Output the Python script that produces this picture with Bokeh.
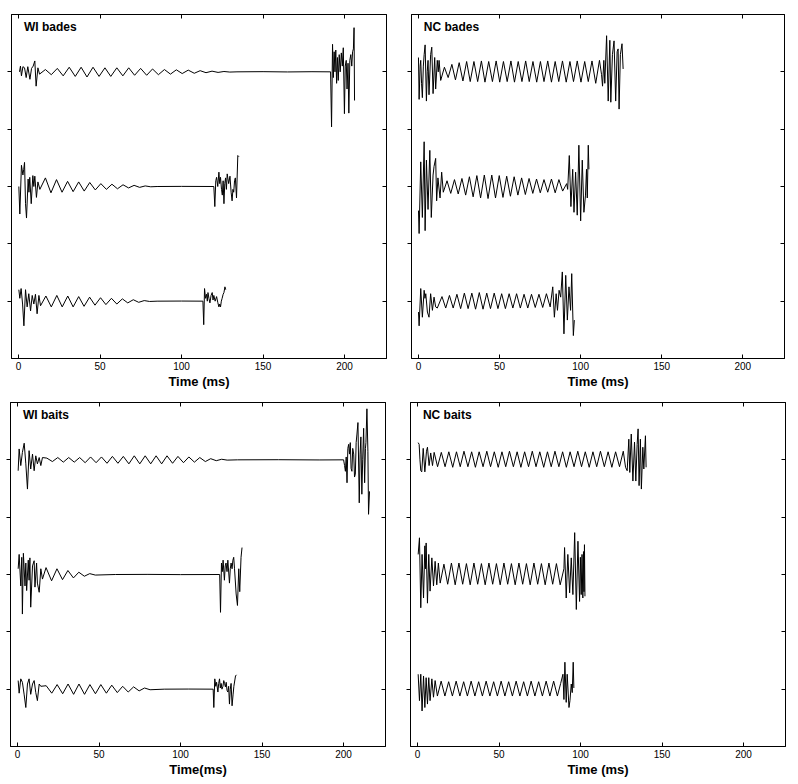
from bokeh.plotting import figure
from bokeh.layouts import column, row
from bokeh.models import Range1d, FixedTicker, LinearAxis, Label
from bokeh.embed import file_html
from bokeh.resources import INLINE

# ---------------- data (time in ms, deflection in tick units) ----------------
X_TICKS = [0, 50, 100, 150, 200]
Y_TICKS = [1, 2, 3, 4, 5]
TRACE_BASE = [5, 3, 1]

WB1 = [(0.6,0.0),(1.2,0.10),(1.8,-0.07),(2.7,0.09),(3.7,0.07),(4.7,-0.10),(5.7,0.09),(7.0,-0.13),(8.0,0.06),(9.0,0.10),(10.0,0.19),(10.8,-0.25),(11.9,0.07),(12.9,-0.04),
       (16.5,0.04),(20.1,-0.05),(23.8,0.06),(27.4,-0.07),(31.1,0.08),(34.8,-0.08),(38.4,0.08),(42.0,-0.09),(45.7,0.08),(49.4,-0.08),(53.0,0.07),(56.6,-0.08),(60.3,0.07),(64.0,-0.07),(67.6,0.07),(71.2,-0.06),(74.9,0.06),(78.6,-0.06),(82.2,0.05),(85.8,-0.05),(89.5,0.04),(93.2,-0.04),(96.8,0.035),(100.4,-0.03),(104.1,0.03),(107.8,-0.025),(111.4,0.02),(115.0,-0.015),(118.7,0.012),(122.4,-0.01),(126.0,0.006),(129.6,-0.004),
       (134.0,0.0),(150.0,0.003),(165.0,-0.002),(180.0,0.002),
       (191.4,0.0),(192.0,-0.96),(192.6,0.48),(193.1,-0.1),(193.6,0.35),(194.1,0.0),(194.6,0.38),(195.1,-0.2),(195.6,0.25),(196.1,-0.15),(196.7,0.3),(197.3,0.0),(198.0,0.33),(198.6,0.1),(199.2,0.42),(199.9,-0.73),(200.4,0.1),(201.0,0.2),(201.5,-0.3),(202.1,0.15),(202.6,-0.72),(203.2,0.2),(203.8,0.3),(204.4,0.1),(204.9,0.35),(205.4,0.4),(205.8,0.77),(206.1,-0.5)]

WB2 = [(0.2,0.0),(0.8,-0.48),(1.8,0.37),(2.7,0.2),(3.2,0.3),(3.7,0.42),(4.3,-0.3),(4.9,-0.55),(5.9,0.13),(6.4,-0.1),(6.9,0.16),(7.8,-0.3),(8.8,0.19),(9.4,0.0),(10.0,0.18),(11.0,-0.19),(11.9,0.08),(13.1,-0.05),
       (16.5,0.15),(19.9,-0.11),(23.3,0.12),(26.7,-0.1),(30.1,0.09),(33.5,-0.09),(36.9,0.08),(40.3,-0.08),(43.7,0.07),(47.1,-0.06),(50.5,0.05),(53.9,-0.05),(57.3,0.04),(60.7,-0.04),(64.1,0.03),(67.5,-0.025),(70.9,0.02),(74.3,-0.015),(77.7,0.01),(81.1,-0.005),
       (85.0,0.0),(100.0,0.002),(119.8,0.0),
       (120.4,-0.35),(121.0,0.1),(121.5,0.16),(122.2,0.0),(122.9,0.25),(123.4,0.05),(123.9,0.16),(124.5,-0.05),(125.0,-0.15),(125.5,0.1),(126.0,-0.3),(126.5,0.05),(127.0,0.15),(127.5,-0.05),(128.0,0.22),(128.9,0.05),(129.7,0.18),(130.4,-0.1),(131.0,-0.25),(131.5,-0.05),(132.0,-0.1),(132.5,0.1),(133.0,0.15),(133.7,-0.2),(134.5,0.54),(135.2,0.52)]

WB3 = [(0.2,0.2),(0.8,0.05),(1.6,0.22),(2.5,-0.05),(3.3,-0.43),(4.3,0.2),(5.3,-0.1),(6.3,0.13),(7.4,-0.17),(8.4,0.1),(9.4,-0.05),(10.4,0.12),(11.4,-0.22),(12.5,0.1),(13.5,-0.08),
       (16.8,0.09),(20.1,-0.1),(23.5,0.1),(26.8,-0.1),(30.2,0.09),(33.5,-0.1),(36.9,0.08),(40.2,-0.09),(43.6,0.07),(46.9,-0.07),(50.3,0.06),(53.6,-0.06),(57.0,0.05),(60.3,-0.05),(63.7,0.04),(67.0,-0.03),(70.4,0.025),(73.7,-0.02),(77.1,0.01),(80.4,-0.005),
       (85.0,0.0),(100.0,0.002),(113.1,0.0),
       (113.6,-0.41),(114.1,0.22),(114.7,0.05),(115.3,0.12),(115.8,0.0),(116.2,0.15),(116.8,0.05),(117.4,-0.03),(118.1,0.1),(118.8,0.15),(119.3,0.02),(119.8,0.1),(120.6,0.0),(121.5,0.08),(122.2,-0.02),(122.9,-0.1),(123.4,-0.05),(123.9,-0.1),(124.4,0.0),(124.9,0.05),(125.5,0.12),(126.0,0.15),(126.6,0.25),(127.1,0.2)]

NB1 = [(0.0,0.25),(0.4,-0.48),(1.0,0.1),(1.4,0.2),(1.9,-0.2),(2.4,-0.45),(3.0,0.1),(3.5,0.3),(4.1,0.47),(4.9,-0.51),(5.4,0.0),(5.9,0.2),(6.5,-0.4),(7.5,0.3),(8.2,0.43),(9.0,-0.38),(10.0,0.25),(10.6,-0.3),(11.6,0.2),(12.2,0.0),(12.7,0.2),(13.7,-0.15),
       (16.0,0.08),(18.3,-0.1),(20.6,0.13),(22.8,-0.14),(25.1,0.16),(27.4,-0.16),(29.7,0.18),(31.9,-0.17),(34.2,0.18),(36.5,-0.17),(38.8,0.19),(41.0,-0.18),(43.3,0.18),(45.6,-0.17),(47.9,0.19),(50.1,-0.18),(52.4,0.18),(54.7,-0.17),(57.0,0.19),(59.2,-0.18),(61.5,0.18),(63.8,-0.17),(66.1,0.19),(68.3,-0.17),(70.6,0.18),(72.9,-0.18),(75.2,0.18),(77.4,-0.17),(79.7,0.19),(82.0,-0.18),(84.3,0.18),(86.5,-0.17),(88.8,0.19),(91.1,-0.18),(93.4,0.18),(95.6,-0.17),(97.9,0.19),(100.2,-0.18),(102.5,0.18),(104.7,-0.17),(107.0,0.19),(109.3,-0.2),(111.6,0.2),
       (112.9,-0.05),(113.5,-0.25),(114.3,0.2),(114.9,-0.2),(116.0,0.63),(117.0,-0.51),(118.0,0.55),(118.6,-0.53),(119.6,0.3),(120.6,0.54),(121.6,-0.51),(122.5,0.35),(123.1,0.4),(123.7,-0.65),(124.5,0.3),(125.5,0.49),(126.2,0.05)]

NB2 = [(0.0,-0.42),(0.4,-0.82),(1.4,0.43),(2.4,-0.54),(3.5,0.78),(4.1,-0.77),(4.9,0.46),(5.9,-0.4),(7.0,0.63),(7.9,-0.54),(9.0,0.2),(9.6,0.35),(10.6,0.49),(11.2,-0.25),(12.0,0.15),(13.3,-0.2),(14.3,0.25),(15.3,-0.1),
       (17.6,0.1),(19.9,-0.12),(22.2,0.12),(24.5,-0.13),(26.8,0.14),(29.1,-0.15),(31.4,0.17),(33.7,-0.18),(36.0,0.19),(38.3,-0.2),(40.6,0.2),(42.9,-0.21),(45.2,0.2),(47.5,-0.2),(49.8,0.19),(52.1,-0.19),(54.4,0.18),(56.7,-0.17),(59.0,0.17),(61.3,-0.15),(63.6,0.15),(65.9,-0.14),(68.2,0.14),(70.5,-0.12),(72.8,0.13),(75.1,-0.11),(77.4,0.12),(79.7,-0.1),(82.0,0.13),(84.3,-0.11),(86.6,0.12),(88.9,-0.08),
       (91.4,0.05),(92.0,-0.05),(93.0,0.54),(94.0,-0.35),(95.1,0.3),(95.9,-0.45),(96.9,0.25),(97.9,-0.5),(98.9,0.72),(100.0,-0.6),(101.0,0.46),(102.0,-0.45),(103.0,-0.15),(103.6,0.3),(104.1,-0.2),(104.7,0.72),(105.1,0.3)]

NB3 = [(0.0,-0.19),(0.4,-0.43),(1.4,0.22),(2.4,-0.28),(3.5,0.19),(4.0,0.05),(4.5,0.13),(5.5,-0.19),(6.5,-0.28),(7.5,0.13),(8.6,-0.16),(9.6,0.07),(10.6,-0.1),(11.6,-0.12),
       (14.5,0.08),(16.8,-0.12),(19.1,0.1),(21.4,-0.12),(23.7,0.12),(26.0,-0.13),(28.3,0.14),(30.6,-0.13),(32.9,0.14),(35.2,-0.14),(37.5,0.15),(39.8,-0.14),(42.1,0.14),(44.4,-0.13),(46.7,0.14),(49.0,-0.13),(51.3,0.13),(53.6,-0.13),(55.9,0.13),(58.2,-0.12),(60.5,0.13),(62.8,-0.12),(65.1,0.12),(67.4,-0.12),(69.7,0.12),(72.0,-0.11),(74.3,0.12),(76.6,-0.11),(78.9,0.13),(81.2,-0.1),
       (82.8,0.25),(83.8,-0.28),(84.9,0.13),(85.7,-0.16),(86.7,0.19),(87.7,0.07),(88.7,0.51),(89.7,-0.57),(90.8,0.45),(91.8,-0.33),(92.8,0.25),(93.8,-0.16),(94.5,0.48),(95.5,-0.6),(96.1,-0.33)]

WT1 = [(0.4,-0.19),(1.0,0.19),(2.0,-0.1),(3.0,0.13),(4.1,0.29),(5.1,-0.07),(6.1,-0.51),(7.1,0.16),(8.1,-0.16),(9.2,0.1),(10.2,-0.19),(11.2,0.07),(12.2,-0.07),(13.3,0.04),(14.3,-0.1),(15.3,0.04),
       (18.0,0.03),(21.4,-0.03),(24.7,0.04),(28.1,-0.04),(31.4,0.04),(34.8,-0.04),(38.1,0.04),(41.5,-0.05),(44.8,0.05),(48.2,-0.05),(51.5,0.05),(54.9,-0.06),(58.2,0.06),(61.6,-0.06),(64.9,0.06),(68.3,-0.07),(71.6,0.07),(75.0,-0.07),(78.3,0.07),(81.7,-0.07),(85.0,0.07),(88.4,-0.07),(91.7,0.07),(95.1,-0.06),(98.4,0.06),(101.8,-0.05),(105.1,0.05),(108.5,-0.04),(111.8,0.04),(115.2,-0.03),(118.5,0.02),(121.9,-0.015),(125.2,0.01),(128.6,-0.005),
       (135.0,0.0),(160.0,0.002),(185.0,-0.002),(200.0,0.0),
       (200.6,-0.1),(201.1,-0.2),(201.6,0.05),(202.1,-0.4),(202.6,0.2),(203.1,0.27),(203.6,0.1),(204.1,0.3),(204.6,-0.15),(205.1,-0.2),(205.6,0.2),(206.2,0.1),(206.7,-0.3),(207.2,-0.25),(207.7,0.3),(208.2,0.45),(208.8,0.65),(209.6,-0.75),(210.1,0.1),(210.6,0.4),(211.2,-0.6),(211.7,0.0),(212.3,0.55),(212.9,-0.4),(213.4,0.2),(213.7,0.3),(214.3,0.89),(214.9,0.15),(215.3,-0.95),(215.9,-0.55)]

WT2 = [(0.4,0.1),(1.0,0.35),(2.0,-0.2),(2.6,0.3),(3.0,-0.69),(3.6,0.37),(4.6,-0.2),(5.1,0.2),(5.6,-0.28),(6.6,0.25),(7.1,-0.1),(7.6,0.29),(8.1,-0.57),(9.2,0.15),(10.2,0.24),(10.7,-0.22),(11.7,0.2),(12.2,-0.15),(13.3,-0.31),(14.3,0.1),(15.3,-0.08),
       (17.5,0.12),(20.9,-0.11),(24.2,0.1),(27.6,-0.09),(30.9,0.07),(34.3,-0.06),(37.6,0.04),(41.0,-0.03),(44.3,0.015),(47.7,-0.01),
       (60.0,0.0),(80.0,0.002),(100.0,-0.002),(124.0,0.0),
       (124.5,-0.66),(125.1,0.2),(125.6,0.05),(126.1,0.25),(126.9,-0.1),(127.4,0.15),(127.9,0.2),(128.5,0.05),(129.0,0.25),(130.0,-0.15),(130.5,0.1),(131.0,0.2),(131.6,0.1),(132.1,0.25),(132.6,0.3),(133.1,0.1),(134.1,-0.34),(134.9,-0.54),(135.7,0.1),(136.3,-0.3),(137.1,0.3),(137.7,0.47)]

WT3 = [(0.4,0.15),(1.0,-0.07),(2.0,0.18),(3.0,0.12),(4.1,-0.1),(5.1,-0.32),(6.1,0.09),(7.1,0.18),(8.1,-0.09),(9.2,0.09),(10.2,0.15),(11.2,-0.06),(12.2,-0.2),(13.3,0.09),(14.3,0.05),
       (17.6,0.06),(21.0,-0.07),(24.3,0.08),(27.7,-0.08),(31.0,0.09),(34.4,-0.09),(37.7,0.09),(41.1,-0.09),(44.4,0.08),(47.8,-0.08),(51.1,0.08),(54.5,-0.07),(57.8,0.07),(61.2,-0.06),(64.5,0.05),(67.9,-0.05),(71.2,0.04),(74.6,-0.03),(77.9,0.02),(81.3,-0.01),
       (90.0,0.0),(105.0,0.002),(120.0,0.0),
       (120.4,-0.32),(121.0,0.18),(121.6,0.05),(122.1,0.12),(122.9,-0.05),(123.4,0.1),(123.9,0.18),(124.4,0.02),(124.9,0.1),(125.4,0.0),(126.0,0.05),(126.5,0.15),(127.0,0.1),(127.5,0.04),(128.0,0.12),(128.5,-0.02),(129.0,-0.05),(129.5,0.05),(130.0,-0.26),(130.5,0.0),(131.0,0.1),(131.6,-0.29),(132.2,-0.1),(132.7,0.05),(133.7,0.23),(134.3,0.25)]

NT1 = [(0.4,0.3),(1.0,0.27),(1.5,0.0),(2.0,-0.19),(2.6,-0.21),(3.5,0.2),(4.5,-0.21),(5.5,0.15),(6.1,0.22),(7.1,-0.1),(8.1,0.12),(9.2,-0.1),(10.2,0.13),
       (12.3,-0.12),(14.6,0.13),(16.9,-0.12),(19.2,0.14),(21.6,-0.13),(23.9,0.14),(26.2,-0.12),(28.5,0.15),(30.9,-0.12),(33.2,0.14),(35.5,-0.13),(37.8,0.14),(40.2,-0.12),(42.5,0.15),(44.8,-0.12),(47.1,0.14),(49.5,-0.13),(51.8,0.14),(54.1,-0.12),(56.4,0.15),(58.8,-0.12),(61.1,0.14),(63.4,-0.13),(65.7,0.14),(68.1,-0.12),(70.4,0.15),(72.7,-0.12),(75.0,0.14),(77.4,-0.13),(79.7,0.14),(82.0,-0.12),(84.3,0.15),(86.7,-0.12),(89.0,0.14),(91.3,-0.13),(93.6,0.14),(96.0,-0.12),(98.3,0.15),(100.6,-0.12),(102.9,0.14),(105.3,-0.13),(107.6,0.14),(109.9,-0.12),(112.2,0.15),(114.6,-0.12),(116.9,0.14),(119.2,-0.13),(121.5,0.14),(123.9,-0.12),(126.2,0.15),
       (127.6,-0.13),(128.6,-0.19),(129.6,0.36),(130.2,-0.22),(131.1,0.45),(132.1,-0.37),(133.1,0.31),(133.9,-0.37),(134.7,0.27),(135.3,0.54),(135.9,-0.45),(136.7,0.36),(137.3,-0.51),(138.2,0.22),(138.8,-0.16),(139.8,0.42),(140.2,-0.13)]

NT2 = [(0.4,0.35),(1.2,0.64),(2.0,-0.58),(2.8,0.35),(3.7,-0.41),(4.5,0.5),(4.9,0.1),(5.3,0.55),(6.1,-0.5),(6.9,0.35),(7.7,-0.29),(8.8,0.29),(9.8,-0.2),(10.8,0.23),(11.8,-0.18),(12.8,0.2),(13.9,-0.15),
       (16.2,0.18),(18.5,-0.17),(20.8,0.2),(23.1,-0.18),(25.4,0.2),(27.7,-0.17),(30.0,0.19),(32.3,-0.18),(34.6,0.2),(36.9,-0.17),(39.2,0.19),(41.5,-0.18),(43.8,0.2),(46.1,-0.17),(48.4,0.19),(50.7,-0.18),(53.0,0.2),(55.3,-0.17),(57.6,0.19),(59.9,-0.18),(62.2,0.2),(64.5,-0.17),(66.8,0.19),(69.1,-0.18),(71.4,0.2),(73.7,-0.17),(76.0,0.19),(78.3,-0.18),(80.6,0.2),(82.9,-0.17),(85.2,0.19),(87.5,-0.18),
       (89.8,0.1),(90.2,0.47),(91.2,-0.41),(92.2,0.35),(93.3,-0.32),(94.3,0.29),(95.3,-0.35),(96.4,0.73),(97.4,-0.61),(98.4,0.58),(99.4,-0.47),(99.9,0.3),(100.4,-0.35),(100.9,0.35),(101.4,-0.41),(101.8,0.4),(102.1,-0.3),(102.4,0.52),(102.7,-0.38)]

NT3 = [(0.4,0.26),(1.2,-0.2),(2.0,0.26),(2.8,-0.38),(3.7,0.23),(4.5,-0.32),(5.3,0.2),(6.1,-0.26),(6.9,0.2),(7.7,-0.2),(8.8,0.18),(9.8,-0.14),(10.8,0.15),(12.2,-0.12),
       (14.5,0.14),(16.8,-0.12),(19.1,0.13),(21.4,-0.12),(23.7,0.14),(26.0,-0.12),(28.3,0.13),(30.6,-0.12),(32.9,0.14),(35.2,-0.12),(37.5,0.13),(39.8,-0.12),(42.1,0.14),(44.4,-0.12),(46.7,0.13),(49.0,-0.12),(51.3,0.14),(53.6,-0.12),(55.9,0.13),(58.2,-0.12),(60.5,0.14),(62.8,-0.12),(65.1,0.13),(67.4,-0.12),(69.7,0.14),(72.0,-0.12),(74.3,0.13),(76.6,-0.12),(78.9,0.14),(81.2,-0.12),(83.5,0.14),(85.8,-0.12),
       (87.8,0.1),(89.2,0.26),(89.8,-0.18),(90.4,0.47),(91.2,-0.23),(91.8,0.26),(92.9,-0.32),(93.5,-0.2),(94.3,0.09),(94.9,-0.06),(95.5,0.47),(95.9,0.02)]

PANEL_TITLES = ["WI bades", "NC bades", "WI baits", "NC baits"]
X_LABELS = ["Time (ms)", "Time (ms)", "Time(ms)", "Time (ms)"]
PANEL_TRACES = [[WB1, WB2, WB3], [NB1, NB2, NB3], [WT1, WT2, WT3], [NT1, NT2, NT3]]

# ---------------- layout ----------------
FONT = "Liberation Sans"
# (width, height, border_left, border_right, border_top, border_bottom)
GEOM = [
    (400, 395, 11, 14, 14, 37),
    (390, 395, 11, 6, 14, 37),
    (400, 387, 10, 15, 7, 36),
    (390, 387, 10, 5, 7, 36),
]


def hide_labels(axis):
    axis.major_label_text_font_size = "1px"
    axis.major_label_text_color = None
    axis.major_label_text_alpha = 0
    axis.major_label_standoff = 0


def make_panel(i):
    w, h, bl, br, bt, bb = GEOM[i]
    p = figure(width=w, height=h, output_backend="svg", toolbar_location=None,
               x_range=Range1d(-4.3, 225.7), y_range=Range1d(0, 6),
               min_border_left=bl, min_border_right=br,
               min_border_top=bt, min_border_bottom=bb,
               background_fill_color="white", border_fill_color="white")
    p.grid.visible = False
    p.outline_line_color = "black"
    p.outline_line_width = 1

    for k, trace in enumerate(PANEL_TRACES[i]):
        t = [pt[0] for pt in trace]
        y = [TRACE_BASE[k] + pt[1] for pt in trace]
        p.line(t, y, line_color="black", line_width=1)

    # bottom axis
    xa = p.xaxis[0]
    xa.ticker = FixedTicker(ticks=X_TICKS)
    xa.major_tick_in = 4
    xa.major_tick_out = 0
    xa.minor_tick_line_color = None
    xa.axis_line_color = "black"
    xa.major_label_text_font = FONT
    xa.major_label_text_font_size = "10px"
    xa.major_label_text_color = "black"
    xa.major_label_standoff = 3
    xa.axis_label = X_LABELS[i]
    xa.axis_label_text_font = FONT
    xa.axis_label_text_font_style = "bold"
    xa.axis_label_text_font_size = "13px"
    xa.axis_label_text_color = "black"
    xa.axis_label_standoff = 1

    # left axis
    ya = p.yaxis[0]
    ya.ticker = FixedTicker(ticks=Y_TICKS)
    ya.major_tick_in = 0
    ya.major_tick_out = 4
    ya.minor_tick_line_color = None
    ya.axis_line_color = "black"
    hide_labels(ya)

    # top and right axes with inward ticks, no labels
    top = LinearAxis(ticker=FixedTicker(ticks=X_TICKS), major_tick_in=4, major_tick_out=0,
                     minor_tick_line_color=None, axis_line_color="black")
    right = LinearAxis(ticker=FixedTicker(ticks=Y_TICKS), major_tick_in=4, major_tick_out=0,
                       minor_tick_line_color=None, axis_line_color="black")
    hide_labels(top)
    hide_labels(right)
    p.add_layout(top, "above")
    p.add_layout(right, "right")

    p.add_layout(Label(x=3.3, y=5.78, text=PANEL_TITLES[i], text_font=FONT,
                       text_font_style="bold", text_font_size="12px",
                       text_baseline="middle", text_color="black"))
    return p


panels = [make_panel(i) for i in range(4)]
layout = column(row(panels[0], panels[1]), row(panels[2], panels[3]))

open("out.html", "w").write(file_html(layout, INLINE))
